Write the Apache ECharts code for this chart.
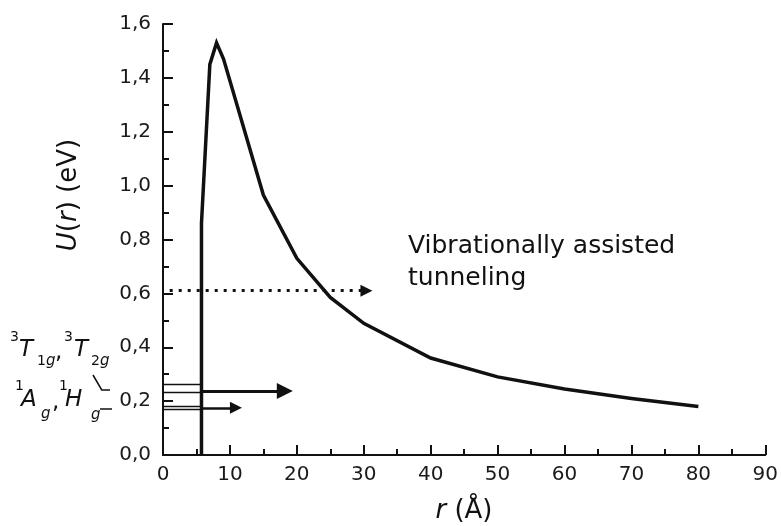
<!DOCTYPE html>
<html><head><meta charset="utf-8">
<script src="https://cdn.jsdelivr.net/npm/echarts@6/dist/echarts.min.js"></script>
<style>html,body{margin:0;padding:0;background:#fff}#c{width:781px;height:526px}</style>
</head><body><div id="c"></div>
<script>
// potential curve U(r)
const rValues = [5.75, 5.75, 7.0, 8.0, 9.05, 15.0, 20.0, 25.0, 30.0, 40.0, 50.0, 60.0, 70.0, 80.0];
const uValues = [0.0, 0.86, 1.45, 1.53, 1.47, 0.965, 0.73, 0.585, 0.489, 0.36, 0.29, 0.245, 0.21, 0.18];
// thin energy levels left of the barrier wall
const levelValues = [0.262, 0.232, 0.182, 0.168];
const levelStart = 0;
const wallR = 5.75;
// thick arrows from the wall
const arrowLevels = [0.238, 0.175];
const arrowEnds = [18.2, 10.9];
// dotted tunneling arrow
const tunnelLevel = 0.61;
const tunnelStart = 1.0;
const tunnelEnd = 30.4;
// tick labels
const xTickLabels = ['0', '10', '20', '30', '40', '50', '60', '70', '80', '90'];
const yTickLabels = ['0,0', '0,2', '0,4', '0,6', '0,8', '1,0', '1,2', '1,4', '1,6'];

const INK = '#111';
const FONT = 'DejaVu Sans';
const chart = echarts.init(document.getElementById('c'), null, {renderer: 'canvas'});

const curve = rValues.map((r, i) => [r, uValues[i]]);
const thinLines = levelValues.map(v => ({coords: [[levelStart, v], [wallR, v]]}));

function txt(x, y, text, size, italic, extra) {
  return Object.assign({
    type: 'text', x: x, y: y, z: 100,
    style: {text: text, fill: INK, font: (italic ? 'italic ' : '') + size + 'px "' + FONT + '"',
            align: 'left', verticalAlign: 'middle'}
  }, extra || {});
}
function sub(x, y, digit) {
  return {
    type: 'text', x: x, y: y, z: 100,
    style: {text: (digit ? '{n|' + digit + '}' : '') + '{i|g}', align: 'left', verticalAlign: 'middle',
      rich: {n: {fontSize: 14, fontFamily: FONT, fill: INK, fontStyle: 'normal'},
             i: {fontSize: 15, fontFamily: FONT, fill: INK, fontStyle: 'italic'}}}
  };
}

const option = {
  animation: false,
  backgroundColor: '#fff',
  grid: {left: 163, right: 14, top: 24, bottom: 71, containLabel: false},
  xAxis: {
    type: 'value', min: 0, max: 90, interval: 10,
    axisLine: {show: true, onZero: false, lineStyle: {color: INK, width: 2}},
    axisTick: {show: true, inside: true, length: 10, lineStyle: {color: INK, width: 2}},
    minorTick: {show: true, splitNumber: 2, length: 6, lineStyle: {color: INK, width: 2}},
    splitLine: {show: false},
    axisLabel: {margin: 10, color: '#1a1a1a', fontFamily: FONT, fontSize: 20,
      formatter: v => xTickLabels[Math.round(v / 10)]}
  },
  yAxis: {
    type: 'value', min: 0, max: 1.6, interval: 0.2,
    axisLine: {show: true, lineStyle: {color: INK, width: 2}},
    axisTick: {show: true, inside: true, length: 10, lineStyle: {color: INK, width: 2}},
    minorTick: {show: true, splitNumber: 2, length: 6, lineStyle: {color: INK, width: 2}},
    splitLine: {show: false},
    axisLabel: {margin: 12, color: '#1a1a1a', fontFamily: FONT, fontSize: 20,
      formatter: v => yTickLabels[Math.round(v / 0.2)]}
  },
  series: [
    {type: 'line', data: curve, showSymbol: false, symbol: 'none', z: 10,
     lineStyle: {color: INK, width: 3.5, join: 'miter'}},
    {type: 'lines', coordinateSystem: 'cartesian2d', data: thinLines, symbol: 'none', z: 5,
     lineStyle: {color: INK, width: 1.3, opacity: 1}},
    {type: 'lines', coordinateSystem: 'cartesian2d', z: 6,
     data: [{coords: [[wallR, arrowLevels[0]], [arrowEnds[0], arrowLevels[0]]], symbolSize: [9, 16],
             lineStyle: {width: 3}}],
     symbol: ['none', 'triangle'],
     lineStyle: {color: INK, width: 3, opacity: 1}},
    {type: 'lines', coordinateSystem: 'cartesian2d', z: 6,
     data: [{coords: [[wallR, arrowLevels[1]], [arrowEnds[1], arrowLevels[1]]]}],
     symbol: ['none', 'triangle'], symbolSize: [7, 12],
     lineStyle: {color: INK, width: 2.5, opacity: 1}},
    {type: 'lines', coordinateSystem: 'cartesian2d', z: 6,
     data: [{coords: [[tunnelStart, tunnelLevel], [tunnelEnd, tunnelLevel]]}],
     symbol: ['none', 'triangle'], symbolSize: [7, 12],
     lineStyle: {color: INK, width: 3, type: [3, 6], opacity: 1}}
  ],
  graphic: [
    {type: 'text', x: 69, y: 195, rotation: Math.PI / 2, z: 100,
     style: {text: '{i|U}({i|r}) (eV)', align: 'center', verticalAlign: 'middle', fill: INK,
       fontSize: 26, fontFamily: FONT,
       rich: {i: {fontStyle: 'italic', fontSize: 26, fontFamily: FONT, fill: INK}}}},
    {type: 'text', x: 464, y: 511, z: 100,
     style: {text: '{i|r} (Å)', align: 'center', verticalAlign: 'middle', fill: INK,
       fontSize: 26, fontFamily: FONT,
       rich: {i: {fontStyle: 'italic', fontSize: 26, fontFamily: FONT, fill: INK}}}},
    txt(408, 246, 'Vibrationally assisted', 25, false),
    txt(408, 278, 'tunneling', 25, false),
    // 3T1g, 3T2g
    txt(10, 337, '3', 14, false),
    txt(19, 350, 'T', 23, true),
    sub(37, 361, '1'),
    txt(55, 352, ',', 23, false),
    txt(64, 337, '3', 14, false),
    txt(74, 350, 'T', 23, true),
    sub(91, 361, '2'),
    // 1Ag, 1Hg
    txt(15, 386, '1', 14, false),
    txt(21, 400, 'A', 23, true),
    sub(41, 414, ''),
    txt(52, 402, ',', 23, false),
    txt(59, 386, '1', 14, false),
    txt(65, 400, 'H', 23, true),
    sub(91, 415, ''),
    {type: 'polyline', z: 100, shape: {points: [[93, 375], [101.7, 390], [110, 390]]},
     style: {stroke: INK, lineWidth: 1.5, fill: null}},
    {type: 'line', z: 100, shape: {x1: 100, y1: 409, x2: 112, y2: 409},
     style: {stroke: INK, lineWidth: 1.5}}
  ]
};
chart.setOption(option);
</script></body></html>
